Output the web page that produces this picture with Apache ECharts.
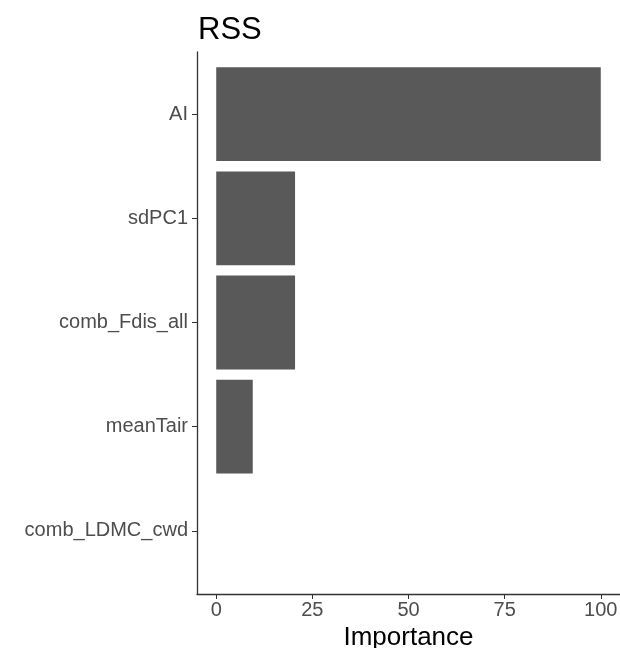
<!DOCTYPE html>
<html>
<head>
<meta charset="utf-8">
<title>RSS</title>
<script src="https://cdn.jsdelivr.net/npm/echarts@6/dist/echarts.min.js"></script>
<style>
  html, body { margin: 0; padding: 0; background: #fff; }
  #chart { width: 620px; height: 648px; }
</style>
</head>
<body>
<div id="chart"></div>
<script>
// Variable importance (RSS), listed top to bottom
const categories = ['AI', 'sdPC1', 'comb_Fdis_all', 'meanTair', 'comb_LDMC_cwd'];
const importance = [100, 20.5, 20.5, 9.5, 0];
const xTicks = [0, 25, 50, 75, 100];

const FONT = '"Liberation Sans", Arial, sans-serif';
const LABEL_GREY = '#4d4d4d';
const AXIS_COLOR = '#333333';

const chart = echarts.init(document.getElementById('chart'), null, { renderer: 'canvas' });

chart.setOption({
  animation: false,
  backgroundColor: '#ffffff',
  title: {
    text: 'RSS',
    left: 193,
    top: 10,
    textStyle: { fontFamily: FONT, fontSize: 31, fontWeight: 'normal', color: '#000' }
  },
  grid: [
    // outer panel: carries the axis lines and the x scale
    { left: 197, right: 0, top: 52, bottom: 54, containLabel: false, outerBoundsMode: 'none' },
    // inner panel: category bands inset by 0.6 band on each side
    { left: 197, right: 0, top: 62, bottom: 65, containLabel: false, outerBoundsMode: 'none' }
  ],
  xAxis: [
    {
      gridIndex: 0,
      type: 'value',
      min: -5,
      max: 105,
      name: 'Importance',
      nameLocation: 'middle',
      nameGap: 30,
      nameTextStyle: { fontFamily: FONT, fontSize: 26, color: '#000' },
      axisLine: { show: true, onZero: false, lineStyle: { color: AXIS_COLOR, width: 1.3 } },
      axisTick: { show: true, length: 5, customValues: xTicks, lineStyle: { color: AXIS_COLOR } },
      axisLabel: {
        show: true, customValues: xTicks, margin: 6,
        fontFamily: FONT, fontSize: 20, color: LABEL_GREY
      },
      splitLine: { show: false }
    },
    {
      gridIndex: 1,
      type: 'value',
      min: -5,
      max: 105,
      show: false
    }
  ],
  yAxis: [
    {
      gridIndex: 0,
      type: 'value',
      min: 0,
      max: 1,
      axisLine: { show: true, onZero: false, lineStyle: { color: AXIS_COLOR, width: 1.3 } },
      axisTick: { show: false },
      axisLabel: { show: false },
      splitLine: { show: false }
    },
    {
      gridIndex: 1,
      type: 'category',
      inverse: true,
      data: categories,
      axisLine: { show: false, onZero: false },
      axisTick: { show: true, alignWithLabel: true, length: 5, lineStyle: { color: AXIS_COLOR } },
      axisLabel: { margin: 9, fontFamily: FONT, fontSize: 20, color: LABEL_GREY }
    }
  ],
  series: [
    {
      type: 'bar',
      xAxisIndex: 1,
      yAxisIndex: 1,
      data: importance,
      barWidth: '90%',
      itemStyle: { color: '#595959' }
    }
  ]
});
</script>
</body>
</html>
